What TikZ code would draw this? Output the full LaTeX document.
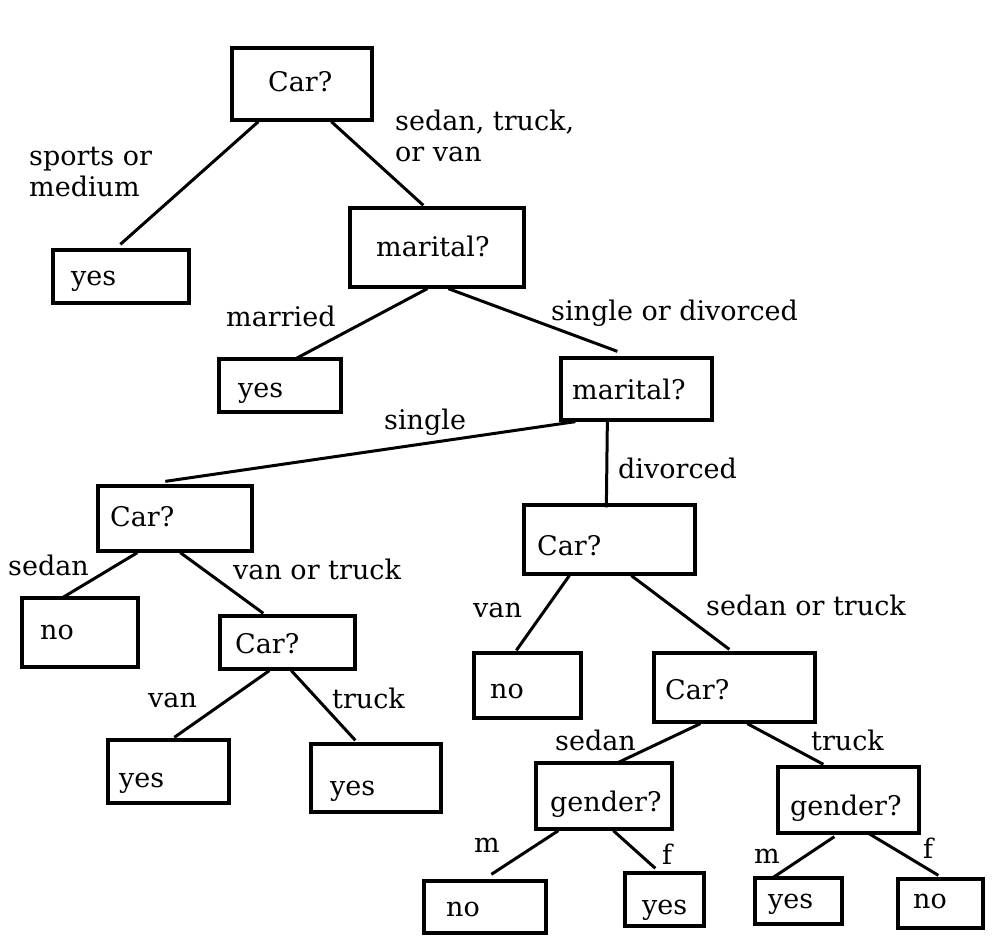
\documentclass[tikz,border=0pt]{standalone}
\usepackage{fontspec}
\setmainfont{DejaVu Serif}
\usetikzlibrary{fit, calc}

\begin{document}
\begin{tikzpicture}[
    x=1pt, y=-1pt,
    box/.style={draw, line width=3.3pt, inner sep=0pt},
    txt/.style={anchor=base west, inner sep=0pt, font=\fontsize{27}{31}\selectfont},
    lbl/.style={txt, align=left},
    branch/.style={line width=3pt}
]
    \useasboundingbox (0,0) rectangle (999,944);

    % Decision boxes
    \node[box, fit={(232,48) (372,120)}] (carA) {};
    \node[box, fit={(53,250) (189,303)}] (yesA) {};
    \node[box, fit={(350,208) (524,287)}] (marA) {};
    \node[box, fit={(219,359) (341,412)}] (yesB) {};
    \node[box, fit={(561,358) (712,420)}] (marB) {};
    \node[box, fit={(98,486) (252,551)}] (carB) {};
    \node[box, fit={(22,598) (138,667)}] (noA) {};
    \node[box, fit={(220,616) (355,669)}] (carC) {};
    \node[box, fit={(108,740) (229,803)}] (yesC) {};
    \node[box, fit={(311,744) (441,812)}] (yesD) {};
    \node[box, fit={(524,505) (695,574)}] (carD) {};
    \node[box, fit={(474,653) (581,718)}] (noB) {};
    \node[box, fit={(654,653) (815,722)}] (carE) {};
    \node[box, fit={(536,763) (672,829)}] (genA) {};
    \node[box, fit={(778,767) (919,833)}] (genB) {};
    \node[box, fit={(424,881) (546,933)}] (noC) {};
    \node[box, fit={(625,873) (704,926)}] (yesE) {};
    \node[box, fit={(755,878) (842,924)}] (yesF) {};
    \node[box, fit={(898,879) (983,928)}] (noD) {};

    % Box texts
    \node[txt] (carAt) at (268,92) {Car?};
    \node[txt] (yesAt) at (71,285) {yes};
    \node[txt] (marAt) at (376,257) {marital?};
    \node[txt] (yesBt) at (238,397) {yes};
    \node[txt] (marBt) at (572,399) {marital?};
    \node[txt] (carBt) at (110,526) {Car?};
    \node[txt] (noAt) at (40,639) {no};
    \node[txt] (carCt) at (235,653) {Car?};
    \node[txt] (yesCt) at (119,787) {yes};
    \node[txt] (yesDt) at (330,795) {yes};
    \node[txt] (carDt) at (537,555) {Car?};
    \node[txt] (noBt) at (490,698) {no};
    \node[txt] (carEt) at (665,699) {Car?};
    \node[txt] (genAt) at (550,811) {gender?};
    \node[txt] (genBt) at (790,815) {gender?};
    \node[txt] (noCt) at (446,916) {no};
    \node[txt] (yesEt) at (642,914) {yes};
    \node[txt] (yesFt) at (768,908) {yes};
    \node[txt] (noDt) at (913,908) {no};

    % Branches
    \draw[branch] ($(carA.south west)+(28,0)$) -- ($(yesA.north west)+(69,-4)$);
    \draw[branch] ($(carA.south west)+(101,0)$) -- ($(marA.north west)+(75,-1)$);
    \draw[branch] ($(marA.south west)+(79,0)$) -- ($(yesB.north west)+(79,1)$);
    \draw[branch] ($(marA.south west)+(100,0)$) -- ($(marB.north west)+(58,-5)$);
    \draw[branch] ($(marB.south west)+(16,0)$) -- ($(carB.north west)+(69,-3)$);
    \draw[branch] ($(marB.south west)+(48,0)$) -- ($(carD.north west)+(84,4)$);
    \draw[branch] ($(carB.south west)+(41,0)$) -- ($(noA.north west)+(41,2)$);
    \draw[branch] ($(carB.south west)+(84,0)$) -- ($(carC.north west)+(45,-1)$);
    \draw[branch] ($(carC.south west)+(51,0)$) -- ($(yesC.north west)+(68,-1)$);
    \draw[branch] ($(carC.south west)+(73,0)$) -- ($(yesD.north west)+(46,-2)$);
    \draw[branch] ($(carD.south west)+(47,0)$) -- ($(noB.north west)+(44,-1)$);
    \draw[branch] ($(carD.south west)+(109,0)$) -- ($(carE.north west)+(77,-2)$);
    \draw[branch] ($(carE.south west)+(48,0)$) -- ($(genA.north west)+(82,2)$);
    \draw[branch] ($(carE.south west)+(95,0)$) -- ($(genB.north west)+(47,-1)$);
    \draw[branch] ($(genA.south west)+(24,0)$) -- ($(noC.north west)+(69,-5)$);
    \draw[branch] ($(genA.south west)+(79,0)$) -- ($(yesE.north west)+(32,-3)$);
    \draw[branch] ($(genB.south west)+(58,2)$) -- ($(yesF.north west)+(20,1)$);
    \draw[branch] ($(genB.south west)+(91,-2)$) -- ($(noD.north west)+(42,-2)$);

    % Branch labels
    \node[lbl] (lSports) at (29,197) {sports or\\medium};
    \node[lbl] (lSedanTruckVan) at (395,162) {sedan, truck,\\or van};
    \node[lbl] (lMarried) at (226,326) {married};
    \node[lbl] (lSingleDiv) at (551,320) {single or divorced};
    \node[lbl] (lSingle) at (384,429) {single};
    \node[lbl] (lDivorced) at (618,478) {divorced};
    \node[lbl] (lSedanA) at (8,575) {sedan};
    \node[lbl] (lVanTruck) at (233,579) {van or truck};
    \node[lbl] (lVanA) at (473,617) {van};
    \node[lbl] (lSedanTruck) at (706,615) {sedan or truck};
    \node[lbl] (lVanB) at (148,707) {van};
    \node[lbl] (lTruckA) at (332,708) {truck};
    \node[lbl] (lSedanB) at (555,750) {sedan};
    \node[lbl] (lTruckB) at (811,750) {truck};
    \node[lbl] (lMA) at (474,852) {m};
    \node[lbl] (lFA) at (662,864) {f};
    \node[lbl] (lMB) at (754,863) {m};
    \node[lbl] (lFB) at (923,858) {f};
\end{tikzpicture}
\end{document}
